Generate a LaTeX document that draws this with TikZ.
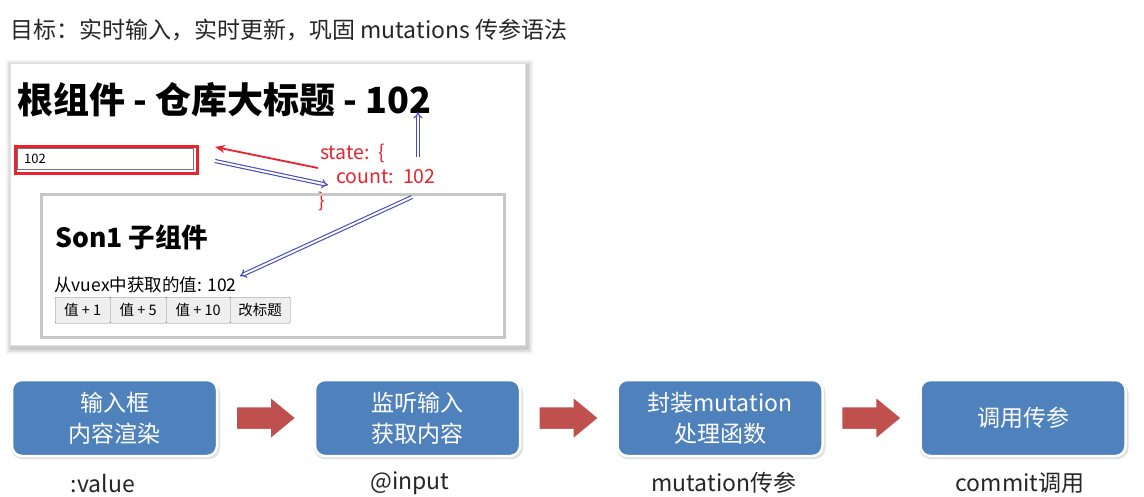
\documentclass[tikz,border=0pt]{standalone}
\usepackage{fontspec}
\setmainfont{Noto Sans CJK SC}
\usetikzlibrary{arrows.meta,calc}
\definecolor{flowblue}{HTML}{4F81BD}
\definecolor{flowred}{HTML}{C0504D}
\definecolor{annred}{HTML}{E8232F}
\definecolor{annblue}{HTML}{4448CC}
\definecolor{btngray}{HTML}{EFEFEF}
\tikzset{
  flowbox/.style={draw=white, line width=2.5pt, fill=flowblue, rounded corners=10pt,
    minimum width=205pt, minimum height=76pt, text=white, align=center,
    font=\fontsize{23}{31}\selectfont},
  flowshadow/.style={fill=black, opacity=0.12, rounded corners=11pt},
  flowarrow/.style={fill=flowred, draw=white, line width=1.5pt, line join=miter},
  flowlabel/.style={font=\fontsize{23}{26}\selectfont, text=black!85},
  btn/.style={draw=black!50, fill=btngray, minimum height=26pt, inner sep=0pt,
    rounded corners=1pt, font=\fontsize{14.5}{16}\selectfont},
  annot/.style={text=annred, font=\fontsize{19.5}{22}\selectfont, anchor=west, inner sep=0pt},
  dblarrow/.style={draw=annblue, double=white, double distance=2pt, line width=1.1pt,
    -{Implies[length=10pt]}},
}
\newcommand{\blockarrow}[1]{%
  \draw[flowarrow] ($(#1)+(-30,-11.5)$) -- ($(#1)+(4,-11.5)$) -- ($(#1)+(4,-21.5)$)
    -- ($(#1)+(30,0)$) -- ($(#1)+(4,21.5)$) -- ($(#1)+(4,11.5)$) -- ($(#1)+(-30,11.5)$) -- cycle;}
\begin{document}
\begin{tikzpicture}[x=1pt,y=-1pt]
\useasboundingbox[fill=white] (0,0) rectangle (1144,496);
% title
\node[anchor=west, inner sep=0pt, font=\fontsize{23}{26}\selectfont, text=black!85] (title) at (10,30)
  {目标：实时输入，实时更新，巩固 mutations 传参语法};
% panel shadow
\foreach \d/\o in {6/0.05,4/0.07,2/0.09}{
  \fill[black, opacity=\o] (10-\d+2,63-\d+3) rectangle (525+\d+2,345+\d+3);
}
\node[draw=black!12, fill=white, minimum width=515pt, minimum height=282pt, inner sep=0pt, anchor=north west] (panel) at (10,63) {};
% heading
\node[anchor=west, inner sep=0pt, font=\fontsize{36}{40}\selectfont\bfseries] (heading) at (17,100)
  {根组件 - 仓库大标题 - 102};
% input
\node[draw=annred, line width=2.5pt, minimum width=182pt, minimum height=27pt, inner sep=0pt, anchor=north west] (inputred) at (14,145) {};
\node[draw=black!55, line width=0.6pt, minimum width=176pt, minimum height=21pt, inner sep=0pt, anchor=north west] (inputbox) at (17,148) {};
\node[anchor=west, inner sep=0pt, font=\fontsize{13}{15}\selectfont] (inputval) at (24,158.5) {102};
% state annotation
\node[annot] (state) at (320,153) {state:\ \ \{};
\node[annot] (count) at (336,177) {count:\ \ 102};
\node[annot] (brace) at (318,201) {\}};
% son box
\node[draw=black!22, line width=2.5pt, minimum width=463pt, minimum height=143pt, inner sep=0pt, anchor=north west] (son) at (40,193) {};
\node[anchor=west, inner sep=0pt, font=\fontsize{26.5}{30}\selectfont\bfseries] (sontitle) at (55,237) {Son1 子组件};
\node[anchor=west, inner sep=0pt, font=\fontsize{17.5}{20}\selectfont] (sonval) at (54,285) {从vuex中获取的值: 102};
\node[btn, minimum width=55pt, anchor=north west] (b1) at (55,297) {值 + 1};
\node[btn, minimum width=56pt, anchor=north west] (b2) at (110,297) {值 + 5};
\node[btn, minimum width=64pt, anchor=north west] (b3) at (166,297) {值 + 10};
\node[btn, minimum width=60pt, anchor=north west] (b4) at (230,297) {改标题};
% annotation arrows
\coordinate (redstart) at (318,168);
\coordinate (redend) at (215,147);
\draw[annred, line width=1.8pt, -{Stealth[length=10pt,width=8pt]}] (redstart) -- (redend);
\coordinate (b1s) at (215,161);
\coordinate (b1e) at (328,185);
\draw[dblarrow] (b1s) -- (b1e);
\coordinate (upS) at (418,157);
\coordinate (upE) at (418,112);
\draw[dblarrow] (upS) -- (upE);
\coordinate (dS) at (412,197);
\coordinate (dE) at (240,276);
\draw[dblarrow] (dS) -- (dE);
% flow box shadows
\foreach \cx in {114.5,417.5,720,1023}{
  \fill[flowshadow] (\cx-103.5,418-36) rectangle (\cx+105.5,418+41);
}
% flow boxes
\node[flowbox] (f1) at (114.5,418) {输入框\\内容渲染};
\node[flowbox] (f2) at (417.5,418) {监听输入\\获取内容};
\node[flowbox] (f3) at (720,418) {封装mutation\\处理函数};
\node[flowbox] (f4) at (1023,418) {调用传参};
\coordinate (a1) at ($(f1.east)!0.5!(f2.west)$);
\coordinate (a2) at ($(f2.east)!0.5!(f3.west)$);
\coordinate (a3) at ($(f3.east)!0.5!(f4.west)$);
\blockarrow{a1}
\blockarrow{a2}
\blockarrow{a3}
\node[flowlabel] (l1) at (103,483) {:value};
\node[flowlabel] (l2) at (410,483) {@input};
\node[flowlabel] (l3) at (724,483) {mutation传参};
\node[flowlabel] (l4) at (1020,483) {commit调用};
\end{tikzpicture}
\end{document}
